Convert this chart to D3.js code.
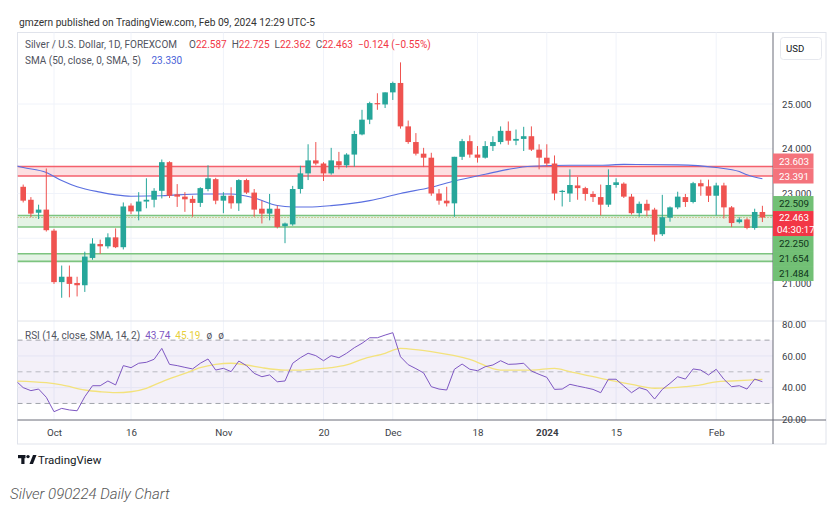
<!DOCTYPE html>
<html><head><meta charset="utf-8">
<script src="https://cdn.jsdelivr.net/npm/d3@7"></script>
<style>
body{margin:0;background:#fff;}
svg{display:block;font-family:Roboto,"Liberation Sans",sans-serif;}
</style>
</head><body>
<svg id="c" width="839" height="515"></svg>
<script>
// ---------------- DATA ----------------
const dates = ["2023-09-26","2023-09-27","2023-09-28","2023-09-29","2023-10-02","2023-10-03","2023-10-04","2023-10-05","2023-10-06","2023-10-09","2023-10-10","2023-10-11","2023-10-12","2023-10-13","2023-10-16","2023-10-17","2023-10-18","2023-10-19","2023-10-20","2023-10-23","2023-10-24","2023-10-25","2023-10-26","2023-10-27","2023-10-30","2023-10-31","2023-11-01","2023-11-02","2023-11-03","2023-11-06","2023-11-07","2023-11-08","2023-11-09","2023-11-10","2023-11-13","2023-11-14","2023-11-15","2023-11-16","2023-11-17","2023-11-20","2023-11-21","2023-11-22","2023-11-23","2023-11-24","2023-11-27","2023-11-28","2023-11-29","2023-11-30","2023-12-01","2023-12-04","2023-12-05","2023-12-06","2023-12-07","2023-12-08","2023-12-11","2023-12-12","2023-12-13","2023-12-14","2023-12-15","2023-12-18","2023-12-19","2023-12-20","2023-12-21","2023-12-22","2023-12-26","2023-12-27","2023-12-28","2023-12-29","2024-01-02","2024-01-03","2024-01-04","2024-01-05","2024-01-08","2024-01-09","2024-01-10","2024-01-11","2024-01-12","2024-01-15","2024-01-16","2024-01-17","2024-01-18","2024-01-19","2024-01-22","2024-01-23","2024-01-24","2024-01-25","2024-01-26","2024-01-29","2024-01-30","2024-01-31","2024-02-01","2024-02-02","2024-02-05","2024-02-06","2024-02-07","2024-02-08","2024-02-09"];

const open = [23.15,22.86,22.57,22.64,22.17,21.02,21.14,21.00,20.95,21.56,
  21.87,21.82,22.02,21.80,22.73,22.60,22.82,22.86,23.06,23.70,
  22.98,22.93,22.88,22.79,23.10,23.32,22.84,22.95,22.78,23.30,
  23.02,22.66,22.55,22.66,22.27,22.31,23.10,23.45,23.74,23.67,
  23.45,23.72,23.63,23.87,24.32,24.65,25.02,24.99,25.26,25.47,
  24.50,24.15,23.89,23.80,23.00,22.84,22.78,23.82,24.17,23.87,
  23.80,24.06,24.15,24.40,24.18,24.22,24.28,23.98,23.80,23.67,
  23.04,23.00,23.18,23.12,22.99,22.92,22.75,23.19,23.22,22.93,
  22.56,22.77,22.64,22.09,22.46,22.69,22.92,22.81,23.23,23.16,
  22.95,23.18,22.69,22.36,22.42,22.23,22.587];
const high = [23.20,22.92,22.75,23.56,22.21,21.39,21.39,21.14,21.70,22.00,
  21.97,22.11,22.22,22.80,22.78,23.03,23.34,23.12,23.76,23.72,
  23.21,23.03,22.95,23.14,23.63,23.35,23.03,23.14,23.32,23.33,
  23.10,22.84,22.99,22.73,22.35,23.17,23.62,24.10,24.15,23.70,
  24.02,23.93,23.90,24.40,24.87,25.05,25.24,25.26,25.50,25.93,
  24.63,24.35,24.02,23.91,23.10,23.15,23.82,24.22,24.30,24.06,
  24.17,24.28,24.50,24.61,24.43,24.49,24.50,24.10,24.10,23.85,
  23.08,23.54,23.37,23.15,23.05,23.20,23.54,23.34,23.25,22.99,
  22.82,22.86,22.68,22.97,22.71,23.04,22.99,23.26,23.31,23.31,
  23.24,23.24,22.72,22.47,22.45,22.66,22.725];
const low = [22.80,22.47,22.43,22.15,20.98,20.67,20.68,20.70,20.80,21.52,
  21.65,21.77,21.78,21.75,22.54,22.40,22.67,22.69,22.89,22.90,
  22.70,22.59,22.48,22.70,23.05,22.76,22.56,22.66,22.61,22.99,
  22.48,22.33,22.40,22.22,21.89,22.28,23.00,23.30,23.63,23.28,
  23.42,23.54,23.58,23.60,24.30,24.55,24.87,24.91,25.09,24.45,
  24.11,23.85,23.59,22.95,22.75,22.71,22.48,23.75,23.80,23.69,
  23.78,23.95,24.10,24.09,24.08,23.95,23.95,23.54,23.60,22.85,
  22.71,22.81,22.86,22.84,22.81,22.51,22.70,23.13,22.90,22.53,
  22.48,22.49,21.93,22.05,22.37,22.65,22.70,22.78,22.95,22.81,
  22.51,22.44,22.25,22.33,22.20,22.19,22.362];
const close = [22.84,22.55,22.64,22.18,21.02,21.14,20.98,20.95,21.59,21.88,
  21.82,22.02,21.80,22.71,22.60,22.82,22.86,23.06,23.70,22.95,
  22.93,22.87,22.79,23.12,23.34,22.84,22.95,22.78,23.30,23.02,
  22.64,22.55,22.66,22.25,22.33,23.10,23.45,23.74,23.67,23.45,
  23.74,23.63,23.87,24.33,24.65,25.02,25.00,25.26,25.47,24.50,
  24.15,23.89,23.80,23.00,22.84,22.78,23.82,24.17,23.87,23.80,
  24.06,24.15,24.40,24.18,24.22,24.28,23.98,23.80,23.67,23.00,
  23.06,23.19,23.12,22.99,22.92,22.75,23.19,23.25,22.93,22.56,
  22.77,22.62,22.08,22.47,22.69,22.93,22.81,23.23,23.16,22.95,
  23.18,22.69,22.34,22.42,22.23,22.587,22.463];

// SMA(50) (bar number, value); bar -1 = the session before the first shown bar
const smaBars   = [-1,0,3,5,7,10,12,14,18,23,27,30,33,35,37,40,45,49,53,56,60,63,66,71,75,78,85,90,93,94,96];
const smaValues = [23.62,23.58,23.47,23.29,23.15,23.03,22.97,22.94,22.95,22.99,22.99,22.90,22.73,22.70,22.70,22.73,22.84,23.00,23.14,23.28,23.43,23.54,23.61,23.63,23.63,23.65,23.64,23.58,23.49,23.42,23.33];

// RSI(14), one value per bar starting at bar -1
const rsiFirstBar = -1;
const rsiValues = [44.5,
  40.0,38.1,39.1,33.9,24.8,26.9,25.9,25.4,34.3,41.2,
  41.2,44.2,41.7,53.9,52.6,55.4,56.0,57.9,64.8,54.7,
  53.9,52.8,51.8,55.4,58.1,51.1,52.2,50.1,56.8,53.9,
  49.0,46.9,48.0,43.7,44.2,55.4,58.9,61.7,60.2,57.0,
  60.2,58.9,61.7,65.2,68.0,71.5,71.5,73.2,74.7,59.5,
  54.5,52.0,49.3,40.6,39.1,38.5,51.6,54.9,51.6,50.7,
  53.2,54.3,57.0,54.7,54.9,55.4,50.5,48.4,46.5,38.9,
  39.1,42.1,41.0,40.0,38.9,36.8,45.3,45.3,41.0,36.8,
  40.0,38.5,32.8,38.9,42.7,46.9,45.4,51.8,51.1,48.0,
  51.6,45.3,40.6,41.2,39.1,45.4,43.74];
// RSI-based MA
const rsiMaBars   = [-1,3,5,8,10,12,14,16,18,21,23,25,27,29,31,34,36,38,40,42,44,47,49,50,53,58,62,66,69,71,75,79,82,86,88,90,92,96];
const rsiMaValues = [44.2,43.1,41.7,38.5,37.4,36.8,37.4,39.6,43.7,49.0,52.6,54.7,55.4,54.3,52.6,51.1,51.1,51.8,52.6,54.3,57.9,61.7,64.8,64.5,62.7,57.9,51.1,51.1,52.2,50.1,45.9,42.1,39.6,40.6,41.7,43.7,44.2,45.19];

// Horizontal zones
const zoneLow  = [23.391, 22.250, 21.484];
const zoneHigh = [23.603, 22.509, 21.654];
const zoneKind = ["resistance", "support", "support"];

const priceTicks = [21, 22, 23, 24, 25];
const rsiTicks = [20, 40, 60, 80];
const rsiLevels = [70, 50, 30];
const xLabelDates = ["2023-10-02","2023-10-16","2023-11-01","2023-11-20","2023-12-01","2023-12-18","2024-01-02","2024-01-15","2024-02-01"];
const xLabelText  = ["Oct","16","Nov","20","Dec","18","2024","15","Feb"];
const countdown = "04:30:17";

// ---------------- LAYOUT ----------------
const svg = d3.select("#c");
const L = 17.5, R = 773, FR = 826, T = 32.5, PB = 321, RB = 420, FB = 444;
const UP = "#26a69a", DN = "#ef5350";

const x = d3.scaleLinear().domain([4, 96]).range([54, 762.4]);
const y = d3.scaleLinear().domain([21, 25]).range([283, 104]);
const yr = d3.scaleLinear().domain([20, 80]).range([419.3, 324.3]);

const defs = svg.append("defs");
defs.append("clipPath").attr("id","cp").append("rect").attr("x",L).attr("y",T).attr("width",R-L).attr("height",PB-T);
defs.append("clipPath").attr("id","cr").append("rect").attr("x",L).attr("y",PB).attr("width",R-L).attr("height",RB-PB);

// header
svg.append("text").attr("x",19).attr("y",26).attr("font-size",10.2).attr("fill","#333")
  .text("gmzern published on TradingView.com, Feb 09, 2024 12:29 UTC-5");

// frame
svg.append("rect").attr("x",L).attr("y",T).attr("width",FR-L).attr("height",FB-T)
  .attr("fill","#fff").attr("stroke","#e0e3eb");

// grid
const xl = xLabelDates.map(d => dates.indexOf(d));
svg.append("g").selectAll("line").data(xl).join("line")
  .attr("x1",d=>x(d)).attr("x2",d=>x(d)).attr("y1",T).attr("y2",RB)
  .attr("stroke","#f0f3fa");
svg.append("g").selectAll("line").data(priceTicks).join("line")
  .attr("x1",L).attr("x2",R).attr("y1",d=>y(d)).attr("y2",d=>y(d)).attr("stroke","#f0f3fa");
svg.append("g").selectAll("line").data(rsiTicks.filter(d=>d>20&&d<80)).join("line")
  .attr("x1",L).attr("x2",R).attr("y1",d=>yr(d)).attr("y2",d=>yr(d)).attr("stroke","#f0f3fa");

// ---------------- PRICE PANE ----------------
const pp = svg.append("g").attr("clip-path","url(#cp)");
zoneLow.forEach((lo,k) => {
  const hi = zoneHigh[k], res = zoneKind[k] === "resistance";
  pp.append("rect").attr("x",L).attr("width",R-L).attr("y",y(hi)).attr("height",y(lo)-y(hi))
    .attr("fill", res ? "rgba(242,54,69,0.16)" : "rgba(76,175,80,0.15)");
  [hi, lo].forEach(v => pp.append("line").attr("x1",L).attr("x2",R).attr("y1",y(v)).attr("y2",y(v))
    .attr("stroke", res ? "#f4606c" : "#7cc47f").attr("stroke-width",1.6));
});

// current price line
const last = close.length - 1;
pp.append("line").attr("x1",L).attr("x2",R).attr("y1",y(close[last])).attr("y2",y(close[last]))
  .attr("stroke","#b8a24a").attr("stroke-width",1).attr("stroke-dasharray","1,2");

// SMA
pp.append("path").datum(smaBars.map((b,i)=>[b, smaValues[i]]))
  .attr("d", d3.line().x(d=>x(d[0])).y(d=>y(d[1])).curve(d3.curveMonotoneX))
  .attr("fill","none").attr("stroke","#5a6fe0").attr("stroke-width",1.1);

// candles
const bw = 5.6;
const cg = pp.append("g").selectAll("g").data(dates.map((d,i)=>i)).join("g");
cg.append("line").attr("x1",i=>x(i)).attr("x2",i=>x(i)).attr("y1",i=>y(high[i])).attr("y2",i=>y(low[i]))
  .attr("stroke",i=>close[i]>=open[i]?UP:DN).attr("stroke-width",1);
cg.append("rect").attr("x",i=>x(i)-bw/2).attr("width",bw)
  .attr("y",i=>y(Math.max(open[i],close[i])))
  .attr("height",i=>Math.max(1.2, Math.abs(y(open[i])-y(close[i]))))
  .attr("fill",i=>close[i]>=open[i]?UP:DN);

// ---------------- RSI PANE ----------------
const rp = svg.append("g").attr("clip-path","url(#cr)");
rp.append("rect").attr("x",L).attr("width",R-L).attr("y",yr(70)).attr("height",yr(30)-yr(70))
  .attr("fill","rgba(126,87,194,0.09)");
rp.selectAll("line.lv").data(rsiLevels).join("line").attr("class","lv")
  .attr("x1",L).attr("x2",R).attr("y1",d=>yr(d)).attr("y2",d=>yr(d))
  .attr("stroke","#8a8d96").attr("stroke-opacity",d=>d===50?0.55:0.8).attr("stroke-dasharray","5,4");
rp.append("path").datum(rsiMaBars.map((b,i)=>[b, rsiMaValues[i]]))
  .attr("d", d3.line().x(d=>x(d[0])).y(d=>yr(d[1])).curve(d3.curveMonotoneX))
  .attr("fill","none").attr("stroke","#f3e27c").attr("stroke-width",1.3);
rp.append("path").datum(rsiValues.map((v,i)=>[rsiFirstBar+i, v]))
  .attr("d", d3.line().x(d=>x(d[0])).y(d=>yr(d[1])))
  .attr("fill","none").attr("stroke","#7e57c2").attr("stroke-width",1);

// pane separator & axes lines
svg.append("line").attr("x1",L).attr("x2",FR).attr("y1",PB).attr("y2",PB).attr("stroke","#e0e3eb");
svg.append("line").attr("x1",L).attr("x2",FR).attr("y1",RB).attr("y2",RB).attr("stroke","#6a6d78");
svg.append("line").attr("x1",R).attr("x2",R).attr("y1",T).attr("y2",FB).attr("stroke","#6a6d78");

// ---- price labels on axis (stacked to avoid overlap) : layout first ----
const h = 15, curH = 25;
const yc = y(close[last]);
const curTop = yc - 6.5, curBot = curTop + curH;
const labs = [];
zoneLow.forEach((lo,k)=>{ labs.push({v:zoneHigh[k],k:zoneKind[k]}); labs.push({v:lo,k:zoneKind[k]}); });
const above = labs.filter(d=>d.v>close[last]).sort((a,b)=>a.v-b.v);
const below = labs.filter(d=>d.v<close[last]).sort((a,b)=>b.v-a.v);
let edge = curTop;
above.forEach(d=>{ const c = Math.min(y(d.v), edge - h/2); d.cy = c; edge = c - h/2; });
edge = curBot;
below.forEach(d=>{ const c = Math.max(y(d.v), edge + h/2); d.cy = c; edge = c + h/2; });
const boxes = [...above, ...below].map(d=>[d.cy-h/2, d.cy+h/2]).concat([[curTop, curBot]]);
const covered = v => boxes.some(([a,b]) => y(v) >= a - 1 && y(v) <= b + 1);

// price axis (tick labels hidden by the label boxes are not drawn, like TradingView)
const pa = svg.append("g").attr("transform",`translate(${R},0)`)
  .call(d3.axisRight(y).tickValues(priceTicks.filter(v=>!covered(v))).tickSize(0).tickPadding(9).tickFormat(d3.format(".3f")));
pa.select(".domain").remove();
pa.selectAll("text").attr("font-size",9.6).attr("fill","#3a3d46").attr("font-family","Roboto,sans-serif");

// rsi axis
const ra = svg.append("g").attr("transform",`translate(${R},0)`)
  .call(d3.axisRight(yr).tickValues(rsiTicks).tickSize(0).tickPadding(9).tickFormat(d3.format(".2f")));
ra.select(".domain").remove();
ra.selectAll("text").attr("font-size",9.6).attr("fill","#3a3d46").attr("font-family","Roboto,sans-serif");

// time axis
const ta = svg.append("g").attr("transform",`translate(0,${RB})`)
  .call(d3.axisBottom(x).tickValues(xl).tickSize(0).tickPadding(9).tickFormat((d,i)=>xLabelText[i]));
ta.select(".domain").remove();
ta.selectAll("text").attr("font-size",9.8).attr("fill","#3a3d46").attr("font-family","Roboto,sans-serif")
  .attr("font-weight",(d,i)=>xLabelText[i]==="2024"?"bold":null);

// USD box
svg.append("rect").attr("x",780.5).attr("y",37.5).attr("width",41).attr("height",22).attr("rx",3)
  .attr("fill","#fff").attr("stroke","#e6e8ee");
svg.append("text").attr("x",786).attr("y",52).attr("font-size",9.6).attr("fill","#131722").text("USD");

// draw label boxes
const lg = svg.append("g");
[...above, ...below].forEach(d=>{
  const res = d.k === "resistance";
  lg.append("rect").attr("x",R).attr("y",d.cy-h/2).attr("width",40.5).attr("height",h)
    .attr("fill", res ? "#f4737c" : "#72c075");
  lg.append("text").attr("x",R+6).attr("y",d.cy+3.6).attr("font-size",9.8)
    .attr("fill", res ? "#fff" : "#10351a").text(d3.format(".3f")(d.v));
});
lg.append("rect").attr("x",R).attr("y",curTop).attr("width",40.5).attr("height",curH).attr("fill","#f23645");
lg.append("text").attr("x",R+6).attr("y",curTop+10.3).attr("font-size",9.8).attr("fill","#fff").text(d3.format(".3f")(close[last]));
lg.append("text").attr("x",R+4).attr("y",curTop+22.3).attr("font-size",9.8).attr("fill","#fff").text(countdown);

// legends
const fmt3 = d3.format(".3f");
const chg = close[last] - close[last-1];
const lgd = svg.append("g").attr("font-size",10);
lgd.append("text").attr("x",25).attr("y",47.5).attr("fill","#50535e").text("Silver / U.S. Dollar, 1D, FOREXCOM");
const ohlc = lgd.append("text").attr("x",189).attr("y",47.5);
[["O",open[last]],["H",high[last]],["L",low[last]],["C",close[last]]].forEach(([l,v],k)=>{
  ohlc.append("tspan").attr("dx", k ? 5 : 0).attr("fill","#50535e").text(l);
  ohlc.append("tspan").attr("fill","#f23645").text(fmt3(v));
});
ohlc.append("tspan").attr("dx",5).attr("fill","#f23645")
  .text("\u2212" + fmt3(Math.abs(chg)) + " (\u2212" + d3.format(".2f")(Math.abs(chg)/close[last-1]*100) + "%)");
lgd.append("text").attr("x",25).attr("y",64).attr("fill","#50535e").text("SMA (50, close, 0, SMA, 5)");
lgd.append("text").attr("x",151.5).attr("y",64).attr("fill","#4a63d8").text(d3.format(".3f")(smaValues[smaValues.length-1]));
const rl = lgd.append("text").attr("x",25).attr("y",338.5);
rl.append("tspan").attr("fill","#50535e").text("RSI (14, close, SMA, 14, 2)");
rl.append("tspan").attr("dx",5).attr("fill","#7e57c2").text(d3.format(".2f")(rsiValues[rsiValues.length-1]));
rl.append("tspan").attr("dx",5).attr("fill","#e8cf3a").text(d3.format(".2f")(rsiMaValues[rsiMaValues.length-1]));
rl.append("tspan").attr("dx",6).attr("fill","#50535e").text("\u00f8");
rl.append("tspan").attr("dx",6).attr("fill","#50535e").text("\u00f8");

// TradingView logo
const logo = svg.append("g").attr("fill","#131722");
logo.append("rect").attr("x",18).attr("y",455).attr("width",7.5).attr("height",3.2);
logo.append("rect").attr("x",21.3).attr("y",455).attr("width",3.2).attr("height",9);
logo.append("circle").attr("cx",28).attr("cy",456.6).attr("r",1.7);
logo.append("path").attr("d","M29.5,464 L33,455 L36.5,455 L33,464 Z");
svg.append("text").attr("x",38).attr("y",463.5).attr("font-size",11.5).attr("fill","#131722").text("TradingView");

// caption
svg.append("text").attr("x",10).attr("y",499).attr("font-size",15).attr("font-style","italic")
  .attr("font-weight",300).attr("fill","#555").text("Silver 090224 Daily Chart");
</script>
</body></html>
